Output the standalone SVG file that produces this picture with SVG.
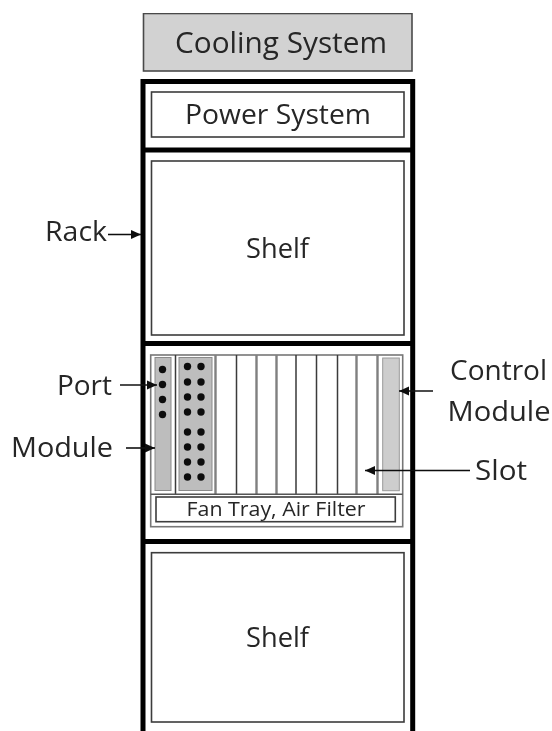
<svg xmlns="http://www.w3.org/2000/svg" width="552" height="731" viewBox="0 0 552 731">
<style>
text{font-family:"Open Sans","Noto Sans","Liberation Sans",sans-serif;fill:#262626;text-anchor:middle}
.box{fill:#fff;stroke:#3c3c3c;stroke-width:1.6}
.rack{fill:none;stroke:#000;stroke-width:5}
.grey{fill:#bdbdbd;stroke:#8a8a8a;stroke-width:1}
.dark{stroke:#3a3a3a;stroke-width:1.5}
.mid{stroke:#808080;stroke-width:2.4}
.lbl{font-size:28px}
.shelf{font-size:28px}
.arr{stroke:#111;stroke-width:1.6;fill:none;marker-end:url(#a)}
.dot{fill:#111}
</style>
<defs>
<marker id="a" markerUnits="userSpaceOnUse" markerWidth="12" markerHeight="12" refX="10" refY="6" orient="auto"><path d="M0 1.500 L10 6 L0 10.500 Z" fill="#111"/></marker>
<filter id="soft" x="0" y="0" width="100%" height="100%"><feGaussianBlur stdDeviation="0.45"/></filter>
</defs>
<rect width="552" height="731" fill="#fff"/>
<g filter="url(#soft)">
<g id="cooling-system">
<rect x="143.500" y="13.500" width="268.500" height="57.500" fill="#d2d2d2" stroke="#4a4a4a" stroke-width="1.600"/>
<text x="281" y="53" font-size="29.500" textLength="212" lengthAdjust="spacingAndGlyphs">Cooling System</text>
</g>
<g id="rack">
<path class="rack" d="M143 735V81.500H412.700V735M143 150H412.700M143 343.500H412.700M143 541.500H412.700"/>
</g>
<g id="power-system">
<rect class="box" x="151.500" y="92" width="252.500" height="45"/>
<text x="278" y="124" font-size="28" textLength="186" lengthAdjust="spacingAndGlyphs">Power System</text>
</g>
<g id="shelf-top">
<rect class="box" x="151.500" y="161" width="252.500" height="174"/>
<text class="shelf" x="277.500" y="258" textLength="63" lengthAdjust="spacingAndGlyphs">Shelf</text>
</g>
<g id="shelf-middle">
<rect x="150.700" y="355" width="252" height="171.700" fill="#fff" stroke="#777" stroke-width="1.600"/>
<path class="dark" d="M175.500 355V494M236.500 355V494M296 355V494M316.500 355V494M337.500 355V494"/>
<path class="mid" d="M215.500 355V494M256.500 355V494M276.500 355V494M356.500 355V494M377.500 355V494"/>
<path d="M150.700 494.300H402.700" stroke="#555" stroke-width="1.500"/>
</g>
<g id="module-1">
<rect class="grey" x="155" y="357.500" width="16" height="133"/>
<circle class="dot" cx="162.500" cy="369.500" r="3.700"/>
<circle class="dot" cx="162.500" cy="384.500" r="3.700"/>
<circle class="dot" cx="162.500" cy="399.500" r="3.700"/>
<circle class="dot" cx="162.500" cy="414.500" r="3.700"/>
</g>
<g id="module-2">
<rect class="grey" x="179" y="357.500" width="33" height="133"/>
<g class="dot">
<circle cx="187.500" cy="366.500" r="3.700"/><circle cx="201" cy="366.500" r="3.700"/>
<circle cx="187.500" cy="382" r="3.700"/><circle cx="201" cy="382" r="3.700"/>
<circle cx="187.500" cy="397" r="3.700"/><circle cx="201" cy="397" r="3.700"/>
<circle cx="187.500" cy="412" r="3.700"/><circle cx="201" cy="412" r="3.700"/>
<circle cx="187.500" cy="432" r="3.700"/><circle cx="201" cy="432" r="3.700"/>
<circle cx="187.500" cy="447" r="3.700"/><circle cx="201" cy="447" r="3.700"/>
<circle cx="187.500" cy="462" r="3.700"/><circle cx="201" cy="462" r="3.700"/>
<circle cx="187.500" cy="477" r="3.700"/><circle cx="201" cy="477" r="3.700"/>
</g>
</g>
<g id="control-module-shape">
<rect x="382.700" y="358" width="16.600" height="132.700" fill="#cdcdcd" stroke="#9a9a9a" stroke-width="1"/>
</g>
<g id="fan-tray">
<rect class="box" x="156" y="497" width="239.300" height="24.700"/>
<text x="276" y="516" font-size="19.500" textLength="179" lengthAdjust="spacingAndGlyphs">Fan Tray, Air Filter</text>
</g>
<g id="shelf-bottom">
<rect class="box" x="151.500" y="552.700" width="252.500" height="169.300"/>
<text class="shelf" x="277.500" y="647" textLength="63" lengthAdjust="spacingAndGlyphs">Shelf</text>
</g>
<g id="connectors">
<line class="arr" x1="108" y1="234.500" x2="141" y2="234.500"/>
<line class="arr" x1="120" y1="385" x2="157" y2="385"/>
<line class="arr" x1="126" y1="448" x2="155" y2="448"/>
<line class="arr" x1="433" y1="391" x2="399" y2="391"/>
<line class="arr" x1="470" y1="470.500" x2="365" y2="470.500"/>
</g>
<g id="labels">
<text class="lbl" x="76" y="241" textLength="62" lengthAdjust="spacingAndGlyphs">Rack</text>
<text class="lbl" x="84.500" y="395" textLength="55" lengthAdjust="spacingAndGlyphs">Port</text>
<text class="lbl" x="62" y="457" textLength="102" lengthAdjust="spacingAndGlyphs">Module</text>
<text class="lbl" x="498.500" y="380" textLength="97" lengthAdjust="spacingAndGlyphs">Control</text>
<text class="lbl" x="499" y="421" textLength="103" lengthAdjust="spacingAndGlyphs">Module</text>
<text class="lbl" x="501" y="480" textLength="52" lengthAdjust="spacingAndGlyphs">Slot</text>
</g>
</g>
</svg>
